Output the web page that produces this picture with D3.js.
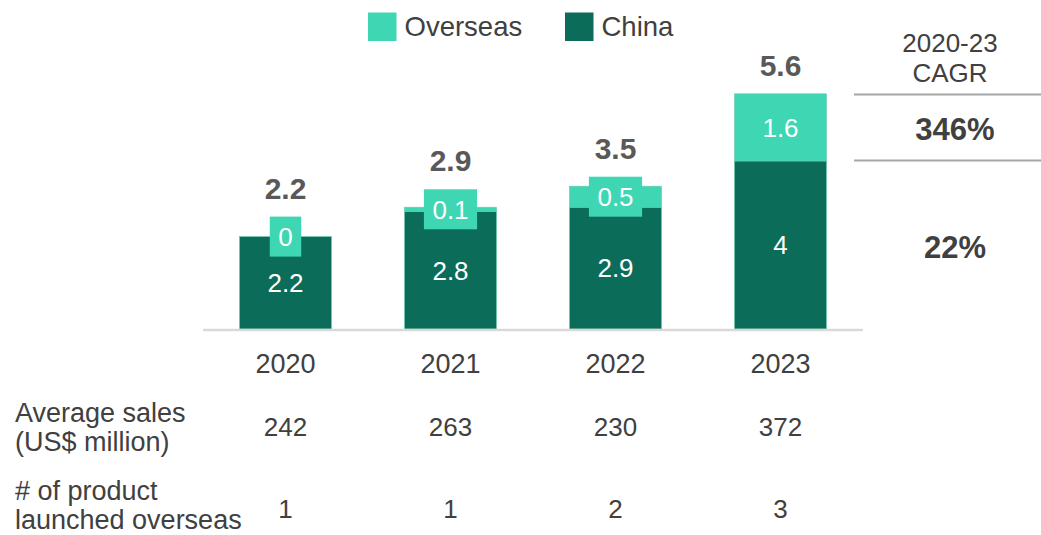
<!DOCTYPE html>
<html>
<head>
<meta charset="utf-8">
<script src="https://cdn.jsdelivr.net/npm/d3@7"></script>
<style>
  html, body { margin: 0; padding: 0; background: #ffffff; }
  svg { display: block; font-family: "Liberation Sans", Arial, sans-serif; }
</style>
</head>
<body>
<svg id="chart" width="1041" height="535"></svg>
<script>
// Sales by region, US$ billion
const years = ["2020", "2021", "2022", "2023"];
const china = [2.2, 2.8, 2.9, 4.0];
const overseas = [0, 0.1, 0.5, 1.6];
const totalLabels = ["2.2", "2.9", "3.5", "5.6"];
const averageSales = [242, 263, 230, 372];
const productsOverseas = [1, 1, 2, 3];
const cagrHeader = ["2020-23", "CAGR"];
const cagrValues = ["346%", "22%"]; // overseas, China

const colOverseas = "#3ed6b3";
const colChina = "#0b6c59";
const textDark = "#404040";
const textGrey = "#595959";

const svg = d3.select("#chart");

const x = d3.scaleBand()
  .domain(years)
  .range([203, 863])
  .paddingInner(1 - 92 / 165)
  .paddingOuter((1 - 92 / 165) / 2);

const y = d3.scaleLinear().domain([0, 5.6]).range([329, 93.8]);

const rows = years.map((yr, i) => ({
  year: yr,
  china: china[i],
  overseas: overseas[i],
  total: totalLabels[i]
}));

const stack = d3.stack().keys(["china", "overseas"])(rows);
const colors = { china: colChina, overseas: colOverseas };

// stacked bars
const layers = svg.append("g").selectAll("g")
  .data(stack)
  .join("g")
  .attr("fill", d => colors[d.key]);

layers.selectAll("rect")
  .data(d => d)
  .join("rect")
  .attr("x", d => x(d.data.year))
  .attr("width", x.bandwidth())
  .attr("y", d => y(d[1]))
  .attr("height", d => y(d[0]) - y(d[1]))
  .attr("stroke", "#6cc9b0")
  .attr("stroke-width", 0.6);

// axis baseline
svg.append("line")
  .attr("x1", x.range()[0]).attr("x2", x.range()[1])
  .attr("y1", y(0) + 1).attr("y2", y(0) + 1)
  .attr("stroke", "#d9d9d9").attr("stroke-width", 2.5);

// China segment labels
svg.append("g").selectAll("text")
  .data(stack[0])
  .join("text")
  .attr("x", d => x(d.data.year) + x.bandwidth() / 2)
  .attr("y", d => (y(d[0]) + y(d[1])) / 2)
  .attr("dy", "0.36em")
  .attr("text-anchor", "middle")
  .attr("font-size", 26)
  .attr("fill", "#ffffff")
  .text(d => d3.format("")(d.data.china));

// Overseas segment labels, with a backing box when the segment is too thin
const ovG = svg.append("g");
const boxTops = [];
stack[1].forEach((d, i) => {
  const cx = x(d.data.year) + x.bandwidth() / 2;
  const cy = (y(d[0]) + y(d[1])) / 2;
  const segH = y(d[0]) - y(d[1]);
  const g = ovG.append("g");
  const t = g.append("text")
    .attr("x", cx).attr("y", cy).attr("dy", "0.36em")
    .attr("text-anchor", "middle")
    .attr("font-size", 26)
    .attr("fill", "#ffffff")
    .text(d3.format("")(d.data.overseas));
  if (segH < 36) {
    const w = t.node().getComputedTextLength() + 17;
    const h = 40;
    g.insert("rect", "text")
      .attr("x", cx - w / 2).attr("y", cy - h / 2)
      .attr("width", w).attr("height", h)
      .attr("fill", colOverseas);
    boxTops[i] = Math.min(cy - h / 2, y(d[1]));
  } else {
    boxTops[i] = y(d[1]);
  }
});

// totals above bars
svg.append("g").selectAll("text")
  .data(rows)
  .join("text")
  .attr("x", d => x(d.year) + x.bandwidth() / 2)
  .attr("y", (d, i) => boxTops[i] - 18)
  .attr("text-anchor", "middle")
  .attr("font-size", 30)
  .attr("font-weight", "bold")
  .attr("fill", textGrey)
  .text(d => d.total);

// year labels
svg.append("g").selectAll("text")
  .data(years)
  .join("text")
  .attr("x", d => x(d) + x.bandwidth() / 2)
  .attr("y", 373)
  .attr("text-anchor", "middle")
  .attr("font-size", 27)
  .attr("fill", textDark)
  .text(d => d);

// legend
const legendItems = [
  { name: "Overseas", color: colOverseas, x: 368 },
  { name: "China", color: colChina, x: 565 }
];
const lg = svg.append("g").selectAll("g")
  .data(legendItems)
  .join("g")
  .attr("transform", d => `translate(${d.x},12.5)`);
lg.append("rect").attr("width", 28.5).attr("height", 28.5).attr("fill", d => d.color);
lg.append("text")
  .attr("x", 36.5).attr("y", 23.5)
  .attr("font-size", 27.5)
  .attr("fill", textDark)
  .text(d => d.name);

// CAGR column
svg.append("g").selectAll("text")
  .data(cagrHeader)
  .join("text")
  .attr("x", 950)
  .attr("y", (d, i) => 51.7 + i * 30)
  .attr("text-anchor", "middle")
  .attr("font-size", 26)
  .attr("fill", textDark)
  .text(d => d);

[94.5, 160.5].forEach(ly => {
  svg.append("line")
    .attr("x1", 854).attr("x2", 1041)
    .attr("y1", ly).attr("y2", ly)
    .attr("stroke", "#a6a6a6").attr("stroke-width", 2);
});

// overseas CAGR sits beside the overseas segment of the latest bar, China beside the China segment
const last = stack[0].length - 1;
const cagrY = [
  (y(stack[1][last][0]) + y(stack[1][last][1])) / 2,
  (y(stack[0][last][0]) + y(stack[0][last][1])) / 2
];
svg.append("g").selectAll("text")
  .data(cagrValues)
  .join("text")
  .attr("x", 955)
  .attr("y", (d, i) => cagrY[i])
  .attr("dy", "0.42em")
  .attr("text-anchor", "middle")
  .attr("font-size", 31)
  .attr("font-weight", "bold")
  .attr("fill", textDark)
  .text(d => d);

// table rows under the chart
const tableRows = [
  { label: ["Average sales", "(US$ million)"], values: averageSales, top: 421.5, valueY: 435.5 },
  { label: ["# of product", "launched overseas"], values: productsOverseas, top: 499.5, valueY: 518 }
];
tableRows.forEach(r => {
  const t = svg.append("text")
    .attr("x", 15).attr("y", r.top)
    .attr("font-size", 27)
    .attr("fill", textDark);
  r.label.forEach((ln, j) => {
    t.append("tspan").attr("x", 15).attr("dy", j === 0 ? 0 : 29.5).text(ln);
  });
  svg.append("g").selectAll("text")
    .data(r.values)
    .join("text")
    .attr("x", (d, i) => x(years[i]) + x.bandwidth() / 2)
    .attr("y", r.valueY)
    .attr("text-anchor", "middle")
    .attr("font-size", 26)
    .attr("fill", textDark)
    .text(d => d);
});
</script>
</body>
</html>
